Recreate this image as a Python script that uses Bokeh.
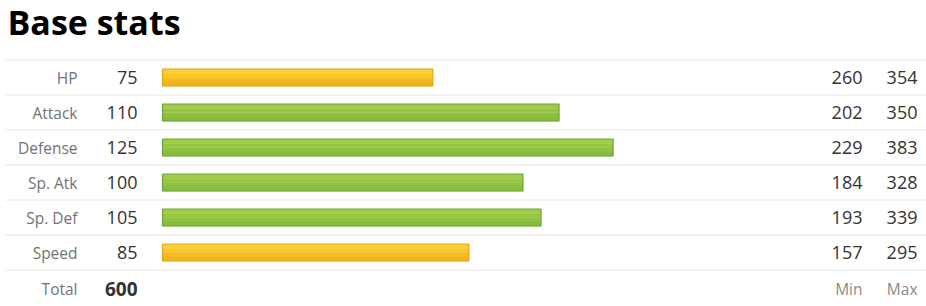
from bokeh.plotting import figure
from bokeh.models import Range1d, ColumnDataSource
from bokeh.core.properties import value
from bokeh.embed import file_html
from bokeh.resources import INLINE

# ---- data ----
stat_names = ["HP", "Attack", "Defense", "Sp. Atk", "Sp. Def", "Speed"]
base_values = [75, 110, 125, 100, 105, 85]
min_values = [260, 202, 229, 184, 193, 157]
max_values = [354, 350, 383, 328, 339, 295]
total_label = "Total"
total_value = 600
title_text = "Base stats"
min_label = "Min"
max_label = "Max"

# ---- layout constants (pixels) ----
W, H = 926, 306
ROW0 = 77
ROW_H = 35
BAR_X0 = 162
PX_PER_UNIT = 3.605
BAR_H = 17
FONT = "Open Sans"

yellow_bands = ["#fbcf32", "#f8c629", "#f4bb21", "#f1b31c"]
green_bands = ["#a0cb44", "#97c642", "#8ec140", "#87bd3e"]
yellow_line, green_line = "#dea71a", "#6ea43a"

n = len(stat_names)
rows = [ROW0 + ROW_H * i for i in range(n)]
is_green = [v >= 90 for v in base_values]
rights = [BAR_X0 + v * PX_PER_UNIT for v in base_values]

src = ColumnDataSource(dict(
    name=stat_names,
    base=[str(v) for v in base_values],
    mn=[str(v) for v in min_values],
    mx=[str(v) for v in max_values],
    y=rows,
))

p = figure(width=W, height=H, output_backend="svg", toolbar_location=None,
           x_range=Range1d(0, W), y_range=Range1d(H, 0),
           min_border=0, outline_line_color=None)
p.axis.visible = False
p.grid.visible = False
p.background_fill_color = "white"
p.border_fill_color = "white"

# separators
sep_y = [ROW0 - ROW_H / 2 + ROW_H * i for i in range(n + 1)]
p.segment(x0=[5] * len(sep_y), x1=[W] * len(sep_y), y0=sep_y, y1=sep_y,
          line_color="#e6e6e6", line_width=1)

# bars: vertical gradient approximated with bands, then border
nb = len(yellow_bands)
for k in range(nb):
    t = [r - BAR_H / 2 + BAR_H * k / nb for r in rows]
    b = [r - BAR_H / 2 + BAR_H * (k + 1) / nb + 0.3 for r in rows]
    p.quad(left=[BAR_X0] * n, right=rights, top=t, bottom=b,
           fill_color=[green_bands[k] if g else yellow_bands[k] for g in is_green],
           line_color=None)
p.quad(left=[BAR_X0] * n, right=rights,
       top=[r - BAR_H / 2 for r in rows], bottom=[r + BAR_H / 2 for r in rows],
       fill_color=None,
       line_color=[green_line if g else yellow_line for g in is_green],
       line_width=1.2)

# title
p.text(x=[7], y=[21], text=[title_text], text_font=value(FONT),
       text_font_style="bold", text_font_size="34px", text_color="#000000",
       text_baseline="alphabetic", text_align="left")

# labels
p.text(x=77, y="y", text="name", source=src, text_font=value(FONT),
       text_font_size="15.5px", text_color="#737373",
       text_baseline="middle", text_align="right")
p.text(x=137, y="y", text="base", source=src, text_font=value(FONT),
       text_font_size="18px", text_color="#333333",
       text_baseline="middle", text_align="right")
p.text(x=862, y="y", text="mn", source=src, text_font=value(FONT),
       text_font_size="18px", text_color="#333333",
       text_baseline="middle", text_align="right")
p.text(x=917, y="y", text="mx", source=src, text_font=value(FONT),
       text_font_size="18px", text_color="#333333",
       text_baseline="middle", text_align="right")

ty = ROW0 + ROW_H * n + 1
p.text(x=[77], y=[ty], text=[total_label], text_font=value(FONT),
       text_font_size="15.5px", text_color="#737373",
       text_baseline="middle", text_align="right")
p.text(x=[137], y=[ty], text=[str(total_value)], text_font=value(FONT),
       text_font_size="19px", text_font_style="bold", text_color="#333333",
       text_baseline="middle", text_align="right")
p.text(x=[862, 917], y=[ty, ty], text=[min_label, max_label], text_font=value(FONT),
       text_font_size="15.5px", text_color="#8a8a8a",
       text_baseline="middle", text_align="right")

open("out.html", "w").write(file_html(p, INLINE))
